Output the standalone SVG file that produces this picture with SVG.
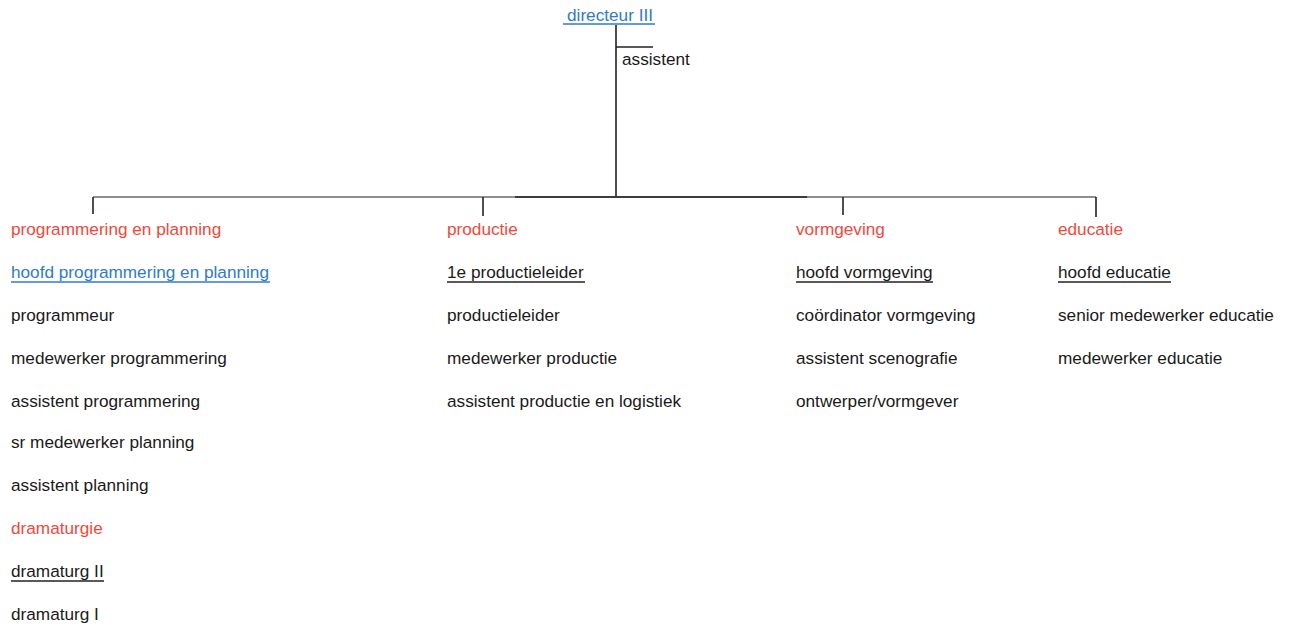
<svg xmlns="http://www.w3.org/2000/svg" width="1291" height="628" viewBox="0 0 1291 628">
<style>
text{font-family:"Liberation Sans",Arial,sans-serif;font-size:17.2px;fill:#1a1a1a}
.h{fill:#f0493b}
.b{fill:#2f7bc8}
.ln{stroke:#222;stroke-width:1.6;fill:none}
.g{stroke:#6a6a6a;stroke-width:1.6;fill:none}
.ub{stroke:#2f7bc8;stroke-width:1.6}
.uk{stroke:#222;stroke-width:1.6}
</style>
<rect width="1291" height="628" fill="#fff"/>
<g id="connectors">
<line class="ln" x1="616" y1="25" x2="616" y2="197"/>
<line class="ln" x1="616" y1="47" x2="653" y2="47"/>
<line class="g" x1="93" y1="197" x2="1096" y2="197"/>
<line class="ln" x1="515" y1="197" x2="807" y2="197"/>
<line class="ln" x1="93" y1="197" x2="93" y2="214"/>
<line class="ln" x1="483" y1="197" x2="483" y2="216"/>
<line class="ln" x1="843" y1="197" x2="843" y2="215"/>
<line class="ln" x1="1096" y1="197" x2="1096" y2="217"/>
</g>
<g id="directeur">
<text class="b" x="567" y="21">directeur III</text>
<line class="ub" x1="563" y1="24" x2="655" y2="24"/>
</g>
<g id="assistent">
<text x="622" y="65">assistent</text>
</g>
<g id="programmering">
<text class="h" x="11" y="235">programmering en planning</text>
<text class="b" x="11" y="278">hoofd programmering en planning</text>
<line class="ub" x1="11" y1="282" x2="270" y2="282"/>
<text x="11" y="321">programmeur</text>
<text x="11" y="364">medewerker programmering</text>
<text x="11" y="407">assistent programmering</text>
<text x="11" y="448">sr medewerker planning</text>
<text x="11" y="491">assistent planning</text>
<text class="h" x="11" y="534">dramaturgie</text>
<text x="11" y="577">dramaturg II</text>
<line class="uk" x1="11" y1="581" x2="104" y2="581"/>
<text x="11" y="620">dramaturg I</text>
</g>
<g id="productie">
<text class="h" x="447" y="235">productie</text>
<text x="447" y="278">1e productieleider</text>
<line class="uk" x1="447" y1="282" x2="585" y2="282"/>
<text x="447" y="321">productieleider</text>
<text x="447" y="364">medewerker productie</text>
<text x="447" y="407">assistent productie en logistiek</text>
</g>
<g id="vormgeving">
<text class="h" x="796" y="235">vormgeving</text>
<text x="796" y="278">hoofd vormgeving</text>
<line class="uk" x1="796" y1="282" x2="933" y2="282"/>
<text x="796" y="321">coördinator vormgeving</text>
<text x="796" y="364">assistent scenografie</text>
<text x="796" y="407">ontwerper/vormgever</text>
</g>
<g id="educatie">
<text class="h" x="1058" y="235">educatie</text>
<text x="1058" y="278">hoofd educatie</text>
<line class="uk" x1="1058" y1="282" x2="1171" y2="282"/>
<text x="1058" y="321">senior medewerker educatie</text>
<text x="1058" y="364">medewerker educatie</text>
</g>
</svg>
